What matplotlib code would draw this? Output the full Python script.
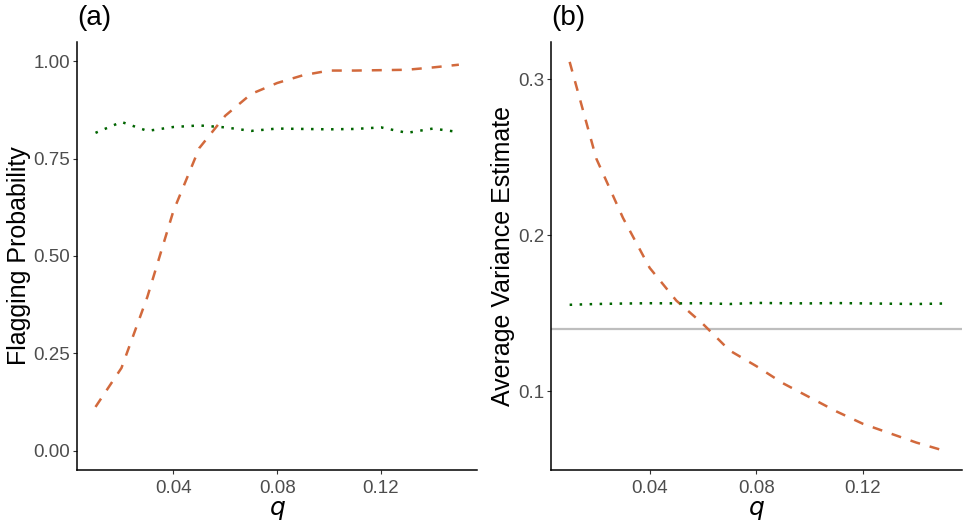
import numpy as np
import matplotlib
matplotlib.use("Agg")
import matplotlib.pyplot as plt

plt.rcParams['font.family'] = ['Liberation Sans', 'DejaVu Sans']

# -------------------------------------------------------------------------
# Data
# -------------------------------------------------------------------------
q = [0.01, 0.02, 0.03, 0.04, 0.05, 0.06, 0.07, 0.08,
     0.09, 0.10, 0.11, 0.12, 0.13, 0.14, 0.15]

flag_dashed = [0.112, 0.212, 0.395, 0.615, 0.777, 0.860, 0.916, 0.944,
               0.964, 0.976, 0.976, 0.977, 0.978, 0.984, 0.991]
flag_dotted = [0.816, 0.844, 0.821, 0.831, 0.835, 0.830, 0.821, 0.827,
               0.826, 0.825, 0.826, 0.830, 0.816, 0.827, 0.818]

var_dashed = [0.311, 0.249, 0.211, 0.179, 0.158, 0.143, 0.126, 0.116,
              0.105, 0.096, 0.087, 0.079, 0.073, 0.067, 0.062]
var_dotted = [0.1553, 0.1558, 0.1561, 0.1563, 0.1562, 0.1563, 0.1558, 0.1565,
              0.1563, 0.1562, 0.1564, 0.1562, 0.1560, 0.1558, 0.1561]
true_var = 0.14

# -------------------------------------------------------------------------
# Styling
# -------------------------------------------------------------------------
orange = '#D2693C'
green = '#006400'
lw = 1.8


def style_axes(ax):
    for side in ['top', 'right']:
        ax.spines[side].set_visible(False)
    for side in ['left', 'bottom']:
        ax.spines[side].set_linewidth(1.1)
        ax.spines[side].set_color('black')
    ax.tick_params(axis='both', length=3, width=0.8, color='#333333',
                   labelsize=13.5, labelcolor='#4D4D4D', pad=2)
    ax.tick_params(axis='x', pad=4)
    ax.set_xlim(0.003, 0.157)
    ax.set_xticks([0.04, 0.08, 0.12])
    ax.set_xticklabels(['0.04', '0.08', '0.12'])
    ax.set_xlabel('$q$', fontsize=18, labelpad=1)


fig = plt.figure(figsize=(9.69, 5.29), dpi=100)
ax1 = fig.add_axes([0.0798, 0.1115, 0.4125, 0.8096])
ax2 = fig.add_axes([0.5686, 0.1115, 0.4238, 0.8096])

# Panel (a)
ax1.plot(q, flag_dashed, color=orange, lw=lw, linestyle=(0, (4, 4)),
         dash_capstyle='butt')
ax1.plot(q, flag_dotted, color=green, lw=lw, linestyle=(0, (1, 3)),
         dash_capstyle='butt')
ax1.set_ylim(-0.05, 1.05)
ax1.set_yticks([0.0, 0.25, 0.5, 0.75, 1.0])
ax1.set_yticklabels(['0.00', '0.25', '0.50', '0.75', '1.00'])
ax1.set_ylabel('Flagging Probability', fontsize=18, labelpad=2)
style_axes(ax1)
ax1.text(0.0, 1.025, '(a)', transform=ax1.transAxes, fontsize=20,
         ha='left', va='bottom')

# Panel (b)
ax2.axhline(true_var, color='#BEBEBE', lw=1.6)
ax2.plot(q, var_dashed, color=orange, lw=lw, linestyle=(0, (4, 4)),
         dash_capstyle='butt')
ax2.plot(q, var_dotted, color=green, lw=lw, linestyle=(0, (1, 3)),
         dash_capstyle='butt')
ax2.set_ylim(0.0494, 0.3239)
ax2.set_yticks([0.1, 0.2, 0.3])
ax2.set_yticklabels(['0.1', '0.2', '0.3'])
ax2.set_ylabel('Average Variance Estimate', fontsize=18, labelpad=2)
style_axes(ax2)
ax2.text(0.0, 1.025, '(b)', transform=ax2.transAxes, fontsize=20,
         ha='left', va='bottom')

fig.savefig('out.png', dpi=100)
